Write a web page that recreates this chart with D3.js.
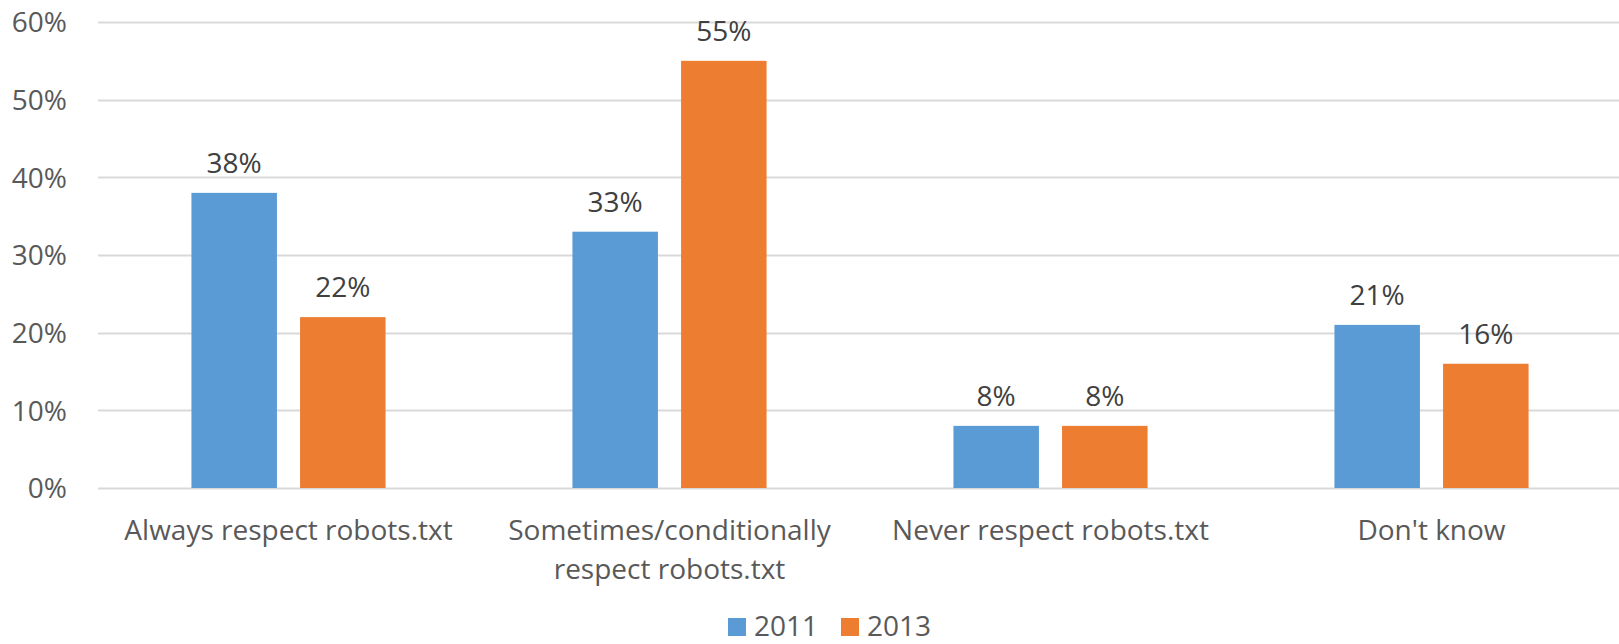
<!DOCTYPE html>
<html>
<head>
<meta charset="utf-8">
<script src="https://cdn.jsdelivr.net/npm/d3@7"></script>
<style>
  html, body { margin: 0; padding: 0; background: #fff; }
  svg { display: block; }
  text { font-family: "Open Sans", "Noto Sans", sans-serif; }
</style>
</head>
<body>
<svg id="chart" width="1619" height="644"></svg>
<script>
const categories = [
  ["Always respect robots.txt"],
  ["Sometimes/conditionally", "respect robots.txt"],
  ["Never respect robots.txt"],
  ["Don't know"]
];
const seriesNames = ["2011", "2013"];
const values2011 = [0.38, 0.33, 0.08, 0.21];
const values2013 = [0.22, 0.55, 0.08, 0.16];
const yTicks = [0, 0.1, 0.2, 0.3, 0.4, 0.5, 0.6];
const colors = ["#5B9BD5", "#ED7D31"];

const svg = d3.select("#chart");
const plotLeft = 98, plotRight = 1622, plotTop = 22, plotBottom = 488;
const fs = 28;

const catKeys = categories.map(c => c.join(" "));
const x0 = d3.scaleBand().domain(catKeys).range([plotLeft, plotRight]).padding(0);
const x1 = d3.scaleBand().domain(seriesNames).range([0, x0.bandwidth()])
  .paddingInner(0.213).paddingOuter(0.86);
const y = d3.scaleLinear().domain([0, 0.6]).range([plotBottom, plotTop]);

// gridlines
svg.append("g").selectAll("line").data(yTicks).join("line")
  .attr("x1", plotLeft).attr("x2", plotRight)
  .attr("y1", d => Math.round(y(d)) + 0.5).attr("y2", d => Math.round(y(d)) + 0.5)
  .attr("stroke", "#D9D9D9").attr("stroke-width", 2);

// y axis labels
const yAxis = d3.axisLeft(y).tickValues(yTicks).tickFormat(d3.format(".0%")).tickSize(0).tickPadding(31);
const ya = svg.append("g").attr("transform", `translate(${plotLeft},0)`).call(yAxis);
ya.select(".domain").remove();
ya.selectAll("text").attr("font-size", fs).attr("fill", "#595959")
  .attr("font-family", '"Open Sans", sans-serif').attr("dy", "0.35em");

// bars
const rows = catKeys.map((k, i) => ({ key: k, vals: [values2011[i], values2013[i]] }));
const groups = svg.append("g").selectAll("g").data(rows).join("g")
  .attr("transform", d => `translate(${x0(d.key)},0)`);
groups.selectAll("rect").data(d => d.vals.map((v, j) => ({ s: seriesNames[j], v, j })))
  .join("rect")
  .attr("x", d => x1(d.s)).attr("width", x1.bandwidth())
  .attr("y", d => y(d.v)).attr("height", d => y(0) - y(d.v))
  .attr("fill", d => colors[d.j]);
groups.selectAll("text.lbl").data(d => d.vals.map((v, j) => ({ s: seriesNames[j], v, j })))
  .join("text").attr("class", "lbl")
  .attr("x", d => x1(d.s) + x1.bandwidth() / 2)
  .attr("y", d => y(d.v) - 20)
  .attr("text-anchor", "middle").attr("font-size", fs).attr("fill", "#404040")
  .text(d => d3.format(".0%")(d.v));

// category labels
const cl = svg.append("g").selectAll("text").data(categories).join("text")
  .attr("x", (d, i) => x0(catKeys[i]) + x0.bandwidth() / 2)
  .attr("y", 540)
  .attr("text-anchor", "middle").attr("font-size", fs).attr("fill", "#595959");
cl.selectAll("tspan").data(d => d).join("tspan")
  .attr("x", function() { return d3.select(this.parentNode).attr("x"); })
  .attr("dy", (d, i) => i === 0 ? 0 : 39)
  .text(d => d);

// legend
const legend = svg.append("g");
const legX = [728, 841];
seriesNames.forEach((s, i) => {
  legend.append("rect").attr("x", legX[i]).attr("y", 618).attr("width", 18).attr("height", 18).attr("fill", colors[i]);
  legend.append("text").attr("x", legX[i] + 26).attr("y", 636).attr("font-size", fs).attr("fill", "#595959").text(s);
});
</script>
</body>
</html>
